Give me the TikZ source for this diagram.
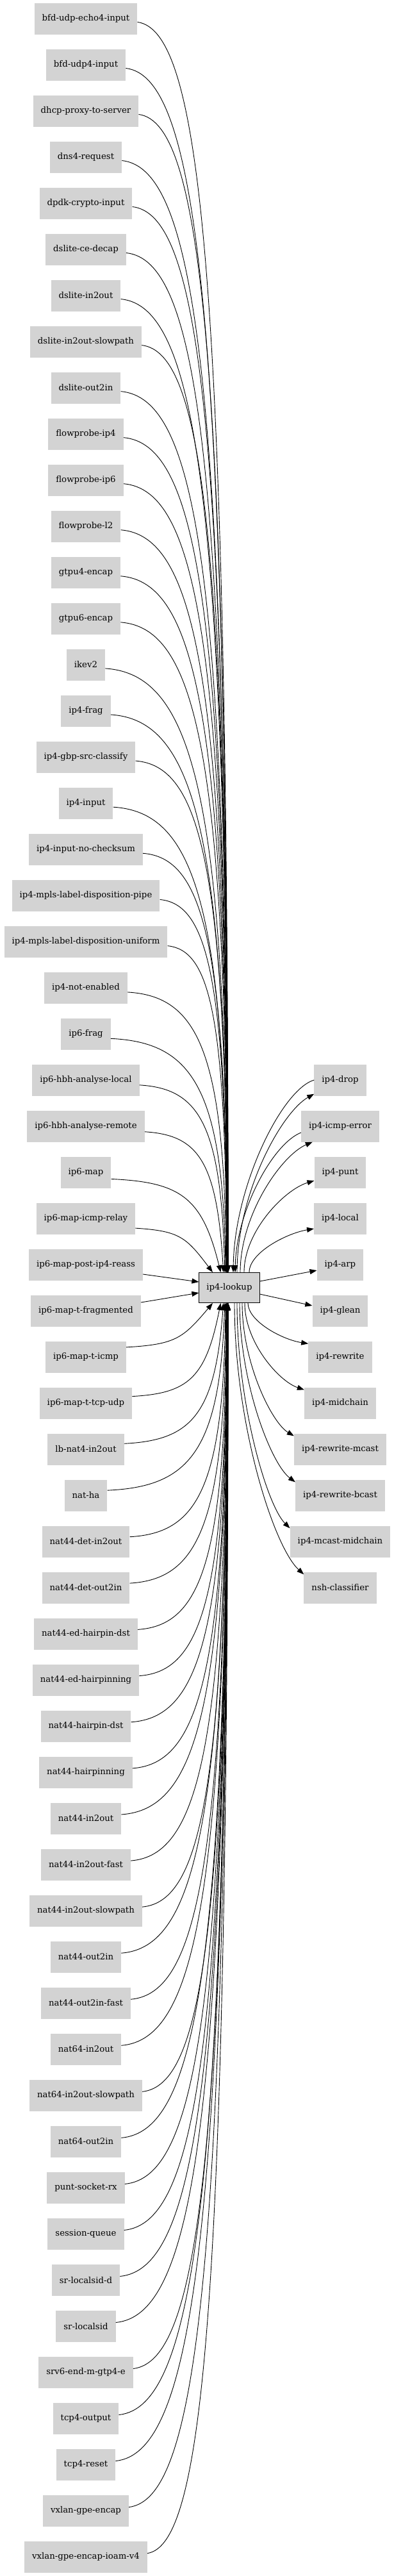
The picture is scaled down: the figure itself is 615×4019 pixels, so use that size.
\documentclass[tikz,border=0pt]{standalone}
\usepackage{fontspec}
\setmainfont{DejaVu Serif}
\usetikzlibrary{arrows.meta}
\definecolor{nodegray}{HTML}{D3D3D3}
\tikzset{
	box/.style={fill=nodegray,inner xsep=12pt,inner ysep=0pt,minimum height=49pt,font=\fontsize{13.3}{16}\selectfont},
	hub/.style={box,draw=black,line width=1pt,minimum height=47pt,inner xsep=11.5pt},
	edge/.style={line width=0.9pt,-{Triangle[length=11pt,width=8pt]}}
}
\begin{document}
\begin{tikzpicture}[x=1pt,y=-1pt]
	\useasboundingbox (0,0) rectangle (615,4019);
	% next nodes of ip4-lookup come in from the left
	\foreach \n [count=\i] in {bfd-udp-echo4-input,bfd-udp4-input,dhcp-proxy-to-server,dns4-request,dpdk-crypto-input,dslite-ce-decap,dslite-in2out,dslite-in2out-slowpath,dslite-out2in,flowprobe-ip4,flowprobe-ip6,flowprobe-l2,gtpu4-encap,gtpu6-encap,ikev2,ip4-frag,ip4-gbp-src-classify,ip4-input,ip4-input-no-checksum,ip4-mpls-label-disposition-pipe,ip4-mpls-label-disposition-uniform,ip4-not-enabled,ip6-frag,ip6-hbh-analyse-local,ip6-hbh-analyse-remote,ip6-map,ip6-map-icmp-relay,ip6-map-post-ip4-reass,ip6-map-t-fragmented,ip6-map-t-icmp,ip6-map-t-tcp-udp,lb-nat4-in2out,nat-ha,nat44-det-in2out,nat44-det-out2in,nat44-ed-hairpin-dst,nat44-ed-hairpinning,nat44-hairpin-dst,nat44-hairpinning,nat44-in2out,nat44-in2out-fast,nat44-in2out-slowpath,nat44-out2in,nat44-out2in-fast,nat64-in2out,nat64-in2out-slowpath,nat64-out2in,punt-socket-rx,session-queue,sr-localsid-d,sr-localsid,srv6-end-m-gtp4-e,tcp4-output,tcp4-reset,vxlan-gpe-encap,vxlan-gpe-encap-ioam-v4}
		\node[box] (src\i) at (134,{29+72*(\i-1)}) {\n};
	\node[hub] (lookup) at (358,2009) {ip4-lookup};
	\foreach \n [count=\j] in {ip4-drop,ip4-icmp-error,ip4-punt,ip4-local,ip4-arp,ip4-glean,ip4-rewrite,ip4-midchain,ip4-rewrite-mcast,ip4-rewrite-bcast,ip4-mcast-midchain,nsh-classifier}
		\node[box] (dst\j) at (531,{1685+72*(\j-1)}) {\n};
	% upper half, into the top of ip4-lookup
	\foreach \i in {1,...,27}{
		\path (src\i.east); \pgfgetlastxy{\xe}{\ye}
		\pgfmathsetmacro{\xa}{\xe}
		\pgfmathsetmacro{\dd}{1985-(29+72*(\i-1))}
		\pgfmathsetmacro{\off}{5+850/\dd}
		\pgfmathsetmacro{\ya}{1985-\dd+\off}
		\pgfmathsetmacro{\xt}{357-25/(28-\i)}
		\pgfmathsetmacro{\ex}{exp(max(-8,-\dd/100))}
		\pgfmathsetmacro{\xb}{\xa+(\xt-\xa)*(0.7-0.3*\ex)}
		\pgfmathsetmacro{\yb}{\ya+4+0.005*\dd}
		\pgfmathsetmacro{\xc}{\xt-0.8*(\xt-\xa)*\ex}
		\pgfmathsetmacro{\yc}{1985-0.8*(1985-\ya)}
		\draw[edge] ([yshift=-\off pt]src\i.east) .. controls (\xb,\yb) and (\xc,\yc) .. ([xshift=\xt pt-358pt]lookup.north);
	}
	\draw[edge] ([yshift=-15pt]src28.east) -- ([yshift=9pt]lookup.west);
	\draw[edge] ([yshift=13pt]src29.east) -- ([yshift=-8pt]lookup.west);
	% lower half, into the bottom
	\foreach \i in {30,...,56}{
		\path (src\i.east); \pgfgetlastxy{\xe}{\ye}
		\pgfmathsetmacro{\xa}{\xe}
		\pgfmathsetmacro{\dd}{29+72*(\i-1)-2033}
		\pgfmathsetmacro{\off}{5+850/\dd}
		\pgfmathsetmacro{\ya}{2033+\dd-\off}
		\pgfmathsetmacro{\xt}{357-25/(\i-29)}
		\pgfmathsetmacro{\ex}{exp(max(-8,-\dd/100))}
		\pgfmathsetmacro{\xb}{\xa+(\xt-\xa)*(0.7-0.3*\ex)}
		\pgfmathsetmacro{\yb}{\ya-4-0.005*\dd}
		\pgfmathsetmacro{\xc}{\xt-0.8*(\xt-\xa)*\ex}
		\pgfmathsetmacro{\yc}{2033+0.8*(\ya-2033)}
		\draw[edge] ([yshift=\off pt]src\i.east) .. controls (\xb,\yb) and (\xc,\yc) .. ([xshift=\xt pt-358pt]lookup.south);
	}
	% out to the right
	\draw[edge] ([xshift=12pt]lookup.north) .. controls (370,1860) and (440,1735) .. ([yshift=3pt]dst1.south west);
	\draw[edge] (dst1.west) .. controls (440,1700) and (366,1850) .. ([xshift=6pt]lookup.north);
	\draw[edge] ([xshift=17pt]lookup.north) .. controls (375,1894) and (440,1802) .. ([xshift=18pt]dst2.south west);
	\draw[edge] ([yshift=-10pt]dst2.west) .. controls (425,1785) and (369,1890) .. ([xshift=9pt]lookup.north);
	\draw[edge] ([xshift=23pt]lookup.north) .. controls (381,1921) and (444,1856) .. ([yshift=-13pt]dst3.west);
	\draw[edge] ([xshift=31pt]lookup.north) .. controls (389,1954) and (448,1924) .. ([yshift=-16pt]dst4.west);
	\draw[edge] ([yshift=10pt]lookup.east) -- ([yshift=-9pt]dst5.west);
	\draw[edge] ([yshift=-10pt]lookup.east) -- ([yshift=8pt]dst6.west);
	\foreach \j/\s in {7/29,8/24,9/20,10/16,11/12,12/8}{
		\path ([yshift=-4pt]dst\j.north west); \pgfgetlastxy{\xe}{\ye}
		\pgfmathsetmacro{\xa}{\xe}
		\pgfmathsetmacro{\ya}{-\ye}
		\pgfmathsetmacro{\xb}{358+\s}
		\pgfmathsetmacro{\yb}{2033+0.45*(\ya-2033)}
		\pgfmathsetmacro{\xc}{\xa-0.43*(\xa-\xb)}
		\pgfmathsetmacro{\yc}{\ya-0.1*(\ya-2033)}
		\draw[edge] ([xshift=\s pt]lookup.south) .. controls (\xb,\yb) and (\xc,\yc) .. ([yshift=-4pt]dst\j.north west);
	}
\end{tikzpicture}
\end{document}
